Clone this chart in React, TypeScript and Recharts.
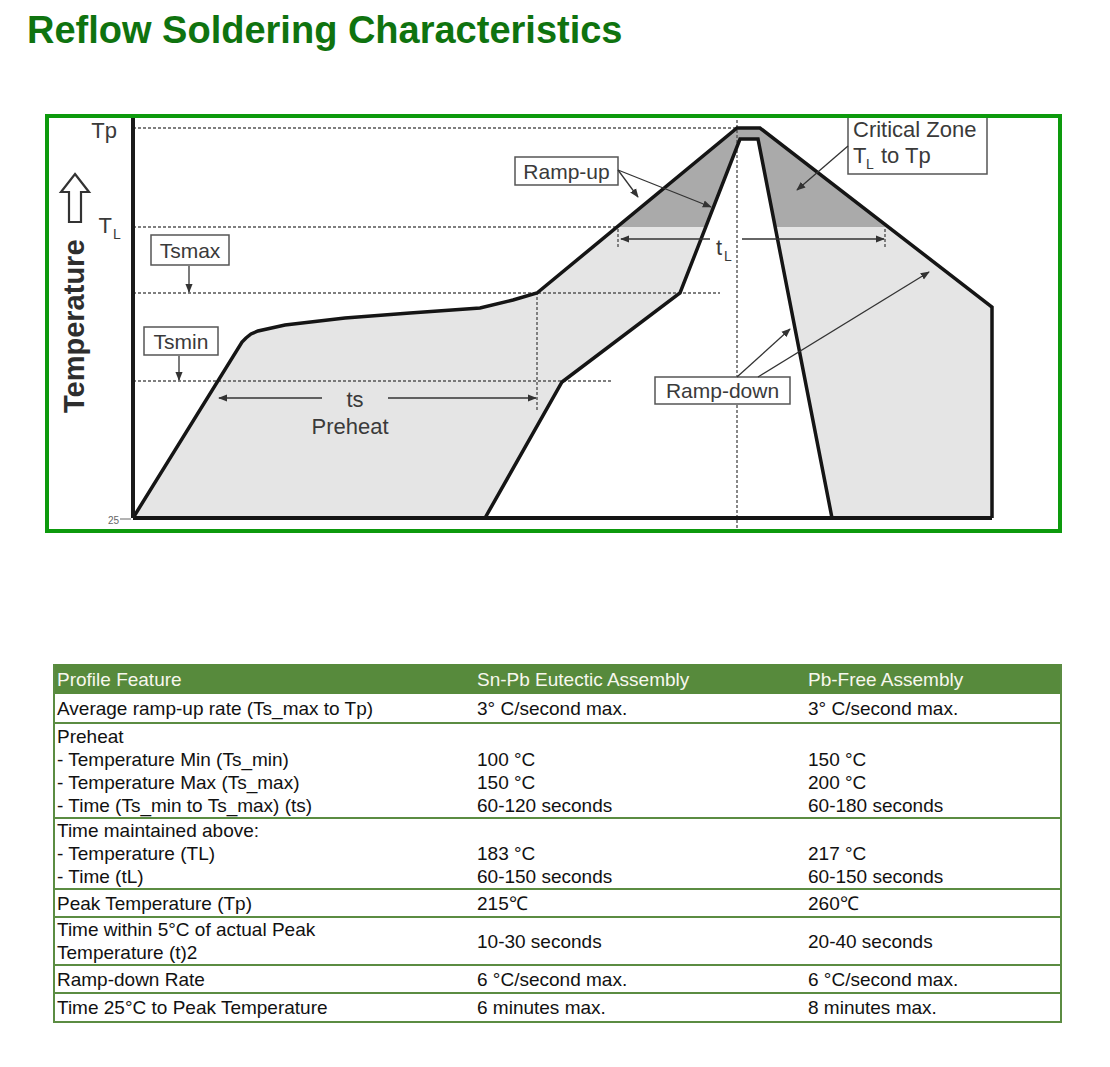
import React from 'react'
import { ComposedChart, Area, Line, XAxis, YAxis, ReferenceLine } from 'recharts'

// schematic profile: t = time (arbitrary units from start), temp = height above the 25 °C baseline
const levelTicks = [0, 291, 390]
const levelNames: Record<number, string> = { 0: '25', 291: 'TL', 390: 'Tp' }
const TL = 291

// outer (max) profile
const outerProfile = [
  { t: 0, temp: 0 },
  { t: 109, temp: 176 },
  { t: 113, temp: 180 },
  { t: 118, temp: 184 },
  { t: 125, temp: 187 },
  { t: 152, temp: 193 },
  { t: 212, temp: 200 },
  { t: 277, temp: 205 },
  { t: 347, temp: 210 },
  { t: 380, temp: 218 },
  { t: 404, temp: 225 },
  { t: 604, temp: 390 },
  { t: 627, temp: 390 },
  { t: 859, temp: 211 },
  { t: 859, temp: 0 },
]

// inner (min) profile
const innerProfile = [
  { t: 352, temp: 0 },
  { t: 429, temp: 136 },
  { t: 547, temp: 225 },
  { t: 607, temp: 379 },
  { t: 625, temp: 379 },
  { t: 699, temp: 0 },
]

// critical zone TL -> Tp
const criticalZone = [
  { t: 484, temp: 291 },
  { t: 604, temp: 390 },
  { t: 627, temp: 390 },
  { t: 755, temp: 291 },
]

// dotted guide lines
const hGuides = [
  { y: 390, from: 0, to: 604 },
  { y: 291, from: 0, to: 484 },
  { y: 225, from: 0, to: 587 },
  { y: 137, from: 0, to: 480 },
]
const vGuides = [
  { x: 604, from: -10, to: 400 },
  { x: 404, from: 108, to: 225 },
  { x: 485, from: 271, to: 289 },
  { x: 752, from: 271, to: 289 },
]

// table
const tableHeader = ['Profile Feature', 'Sn-Pb Eutectic Assembly', 'Pb-Free Assembly']
const featureCol = [
  ['Average ramp-up rate (Ts_max to Tp)'],
  ['Preheat', '- Temperature Min (Ts_min)', '- Temperature Max (Ts_max)', '- Time (Ts_min to Ts_max) (ts)'],
  ['Time maintained above:', '- Temperature (TL)', '- Time (tL)'],
  ['Peak Temperature (Tp)'],
  ['Time within 5°C of actual Peak', 'Temperature (t)2'],
  ['Ramp-down Rate'],
  ['Time 25°C to Peak Temperature'],
]
const snPbCol = [
  ['3° C/second max.'],
  ['', '100 °C', '150 °C', '60-120 seconds'],
  ['', '183 °C', '60-150 seconds'],
  ['215℃'],
  ['10-30 seconds'],
  ['6 °C/second max.'],
  ['6 minutes max.'],
]
const pbFreeCol = [
  ['3° C/second max.'],
  ['', '150 °C', '200 °C', '60-180 seconds'],
  ['', '217 °C', '60-150 seconds'],
  ['260℃'],
  ['20-40 seconds'],
  ['6 °C/second max.'],
  ['8 minutes max.'],
]
const rowHeights = [30, 95, 71, 28, 48, 28, 29]

const FONT = '"Liberation Sans", Arial, sans-serif'
const INK = '#3a3a3a'
const TABLE_GREEN = '#5b8c42'

function LevelTick(props: any) {
  const { x, y, payload } = props
  const name = levelNames[payload.value]
  if (name === 'Tp') {
    return <text x={x - 8} y={y + 10} textAnchor="end" fontSize={22} fill={INK} fontFamily={FONT}>Tp</text>
  }
  if (name === 'TL') {
    return (
      <g fill={INK} fontFamily={FONT}>
        <text x={x - 13} y={y + 6} textAnchor="end" fontSize={22}>T</text>
        <text x={x - 12} y={y + 12} fontSize={14}>L</text>
      </g>
    )
  }
  return (
    <g>
      <text x={x - 6} y={y + 6} textAnchor="end" fontSize={10} fill="#666" fontFamily={FONT}>{name}</text>
      <line x1={x - 5} x2={x + 6} y1={y + 1} y2={y + 1} stroke="#666" strokeWidth={1} />
    </g>
  )
}

function Box({ x, y, w, h, label, size = 21 }: any) {
  return (
    <g>
      <rect x={x} y={y} width={w} height={h} fill="#fff" stroke="#555" strokeWidth={1.5} />
      <text x={x + w / 2} y={y + h / 2 + size * 0.36} textAnchor="middle" fontSize={size} fill={INK} fontFamily={FONT}>{label}</text>
    </g>
  )
}

function Annotations() {
  const arrow = { stroke: '#333', strokeWidth: 1.3, markerEnd: 'url(#ah)' }
  return (
    <svg width={1008} height={411} style={{ position: 'absolute', left: 0, top: 0, overflow: 'hidden', pointerEvents: 'none' }}>
      <defs>
        <marker id="ah" viewBox="0 0 10 10" refX="9" refY="5" markerWidth="7" markerHeight="7" orient="auto">
          <path d="M0,1 L10,5 L0,9 z" fill="#333" />
        </marker>
      </defs>
      <g transform="translate(-49 -118)">
        {/* y axis title */}
        <text x={84} y={413} transform="rotate(-90 84 413)" fontSize={29} fontWeight="bold" fill="#2e2e2e" fontFamily={FONT}>Temperature</text>
        <polygon points="75,174 89,192 81,192 81,222 69,222 69,192 61,192" fill="#fff" stroke="#333" strokeWidth={2.2} strokeLinejoin="miter" />

        <Box x={151} y={235} w={78} h={30} label="Tsmax" />
        <line x1={189} y1={266} x2={189} y2={292} {...arrow} />
        <Box x={144} y={327} w={74} h={28} label="Tsmin" />
        <line x1={179} y1={356} x2={179} y2={380} {...arrow} />

        <Box x={515} y={157} w={103} h={28} label="Ramp-up" />
        <line x1={618} y1={170} x2={638} y2={197} {...arrow} />
        <line x1={618} y1={170} x2={711} y2={207} {...arrow} />

        <Box x={655} y={377} w={135} h={27} label="Ramp-down" />
        <line x1={737} y1={377} x2={790} y2={329} {...arrow} />
        <line x1={758} y1={377} x2={929} y2={272} {...arrow} />

        <rect x={848} y={100} width={139} height={74} fill="#fff" stroke="#555" strokeWidth={1.5} />
        <g fill={INK} fontFamily={FONT}>
          <text x={853} y={137} fontSize={22}>Critical Zone</text>
          <text x={853} y={163} fontSize={22}>T</text>
          <text x={866} y={169} fontSize={14}>L</text>
          <text x={881} y={163} fontSize={22}>to Tp</text>
        </g>
        <line x1={848} y1={146} x2={797} y2={190} {...arrow} />

        {/* ts preheat span */}
        <line x1={322} y1={398} x2={219} y2={398} {...arrow} />
        <line x1={388} y1={398} x2={536} y2={398} {...arrow} />
        <g fill={INK} fontFamily={FONT} textAnchor="middle">
          <text x={355} y={407} fontSize={22}>ts</text>
          <text x={350} y={434} fontSize={22}>Preheat</text>
        </g>

        {/* tL span */}
        <line x1={710} y1={239} x2={621} y2={239} {...arrow} />
        <line x1={742} y1={239} x2={884} y2={239} {...arrow} />
        <g fill={INK} fontFamily={FONT}>
          <text x={716} y={255} fontSize={22}>t</text>
          <text x={724} y={261} fontSize={14}>L</text>
        </g>
      </g>
    </svg>
  )
}

function ProfileChart() {
  return (
    <ComposedChart width={1008} height={411} margin={{ top: 0, right: 0, bottom: 11, left: 0 }}>
      <XAxis dataKey="t" type="number" domain={[0, 924]} hide allowDataOverflow />
      <YAxis
        type="number"
        domain={[0, 400]}
        ticks={levelTicks}
        interval={0}
        width={84}
        axisLine={{ stroke: '#1a1a1a', strokeWidth: 4 }}
        tickLine={false}
        tick={<LevelTick />}
      />
      <Area data={outerProfile} dataKey="temp" type="linear" fill="#e5e5e5" fillOpacity={1} stroke="none" isAnimationActive={false} />
      <Area data={criticalZone} dataKey="temp" baseValue={TL} type="linear" fill="#aaaaaa" fillOpacity={1} stroke="none" isAnimationActive={false} />
      <Area data={innerProfile} dataKey="temp" type="linear" fill="#ffffff" fillOpacity={1} stroke="none" isAnimationActive={false} />
      {hGuides.map((g, i) => (
        <ReferenceLine key={'h' + i} segment={[{ x: g.from, y: g.y }, { x: g.to, y: g.y }]} stroke="#555" strokeWidth={1.4} strokeDasharray="3 2" ifOverflow="visible" />
      ))}
      {vGuides.map((g, i) => (
        <ReferenceLine key={'v' + i} segment={[{ x: g.x, y: g.from }, { x: g.x, y: g.to }]} stroke="#555" strokeWidth={1.4} strokeDasharray="3 2" ifOverflow="visible" />
      ))}
      <Line data={outerProfile} dataKey="temp" type="linear" stroke="#151515" strokeWidth={3.5} dot={false} activeDot={false} isAnimationActive={false} />
      <Line data={innerProfile} dataKey="temp" type="linear" stroke="#151515" strokeWidth={3.5} dot={false} activeDot={false} isAnimationActive={false} />
      <ReferenceLine segment={[{ x: 0, y: 0 }, { x: 859, y: 0 }]} stroke="#151515" strokeWidth={4} ifOverflow="visible" />
    </ComposedChart>
  )
}

function Cell({ lines, width, pad }: { lines: string[]; width: number; pad: number }) {
  return (
    <div style={{ width, paddingLeft: pad, display: 'flex', flexDirection: 'column', justifyContent: 'center', boxSizing: 'border-box' }}>
      {lines.map((l, i) => (
        <div key={i} style={{ height: 23, lineHeight: '23px', whiteSpace: 'nowrap' }}>{l}</div>
      ))}
    </div>
  )
}

const colWidths = [420, 331, 254]

export default function App() {
  return (
    <div style={{ position: 'absolute', left: 0, top: 0, width: 1110, height: 1067, background: '#fff', fontFamily: FONT }}>
      <div style={{ position: 'absolute', left: 27, top: 11, fontSize: 38, lineHeight: '38px', fontWeight: 'bold', color: '#0f730f', whiteSpace: 'nowrap' }}>
        Reflow Soldering Characteristics
      </div>

      <div style={{ position: 'absolute', left: 45, top: 114, width: 1017, height: 419, border: '4px solid #0d9a0d', boxSizing: 'border-box' }} />
      <div style={{ position: 'absolute', left: 49, top: 118, width: 1008, height: 411 }}>
        <ProfileChart />
        <Annotations />
      </div>

      <div style={{ position: 'absolute', left: 53, top: 664, width: 1009, borderLeft: `2px solid ${TABLE_GREEN}`, borderRight: `2px solid ${TABLE_GREEN}`, boxSizing: 'border-box', fontSize: 19, color: '#111' }}>
        <div style={{ height: 30, display: 'flex', background: '#578a3c', color: '#f7f7ee' }}>
          {tableHeader.map((h, i) => (
            <Cell key={i} lines={[h]} width={colWidths[i]} pad={i === 0 ? 2 : 2} />
          ))}
        </div>
        {featureCol.map((f, r) => (
          <div key={r} style={{ height: rowHeights[r], display: 'flex', borderBottom: `2px solid ${TABLE_GREEN}`, boxSizing: 'border-box' }}>
            <Cell lines={f} width={colWidths[0]} pad={2} />
            <Cell lines={snPbCol[r]} width={colWidths[1]} pad={2} />
            <Cell lines={pbFreeCol[r]} width={colWidths[2]} pad={2} />
          </div>
        ))}
      </div>
    </div>
  )
}
